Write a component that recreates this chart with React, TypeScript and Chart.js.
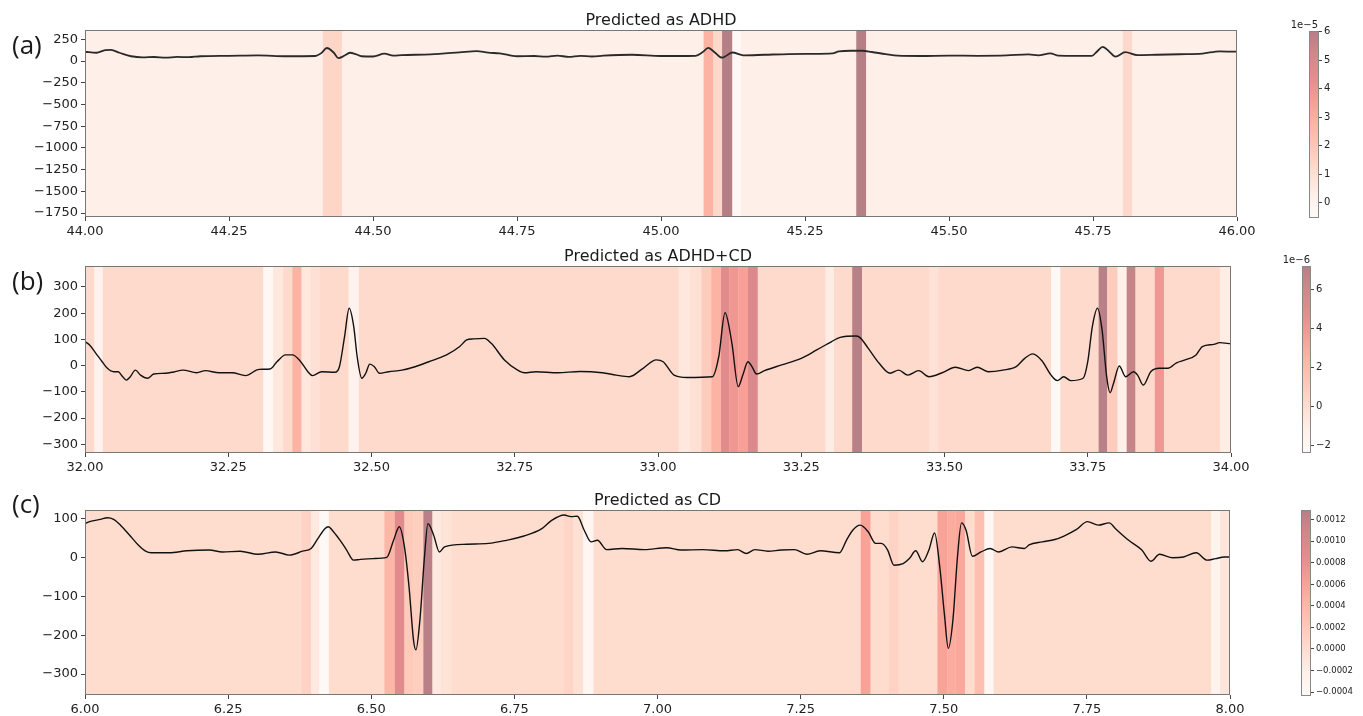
import React, { useEffect, useRef } from "react";
import { Chart, registerables } from "chart.js";
Chart.register(...registerables);

const TICK_FONT = "'DejaVu Sans', sans-serif";
const LABEL_FONT = "'Open Sans', 'DejaVu Sans', sans-serif";

// ---------------- Panel (a) ----------------
const titleA = "Predicted as ADHD";
const labelA = "(a)";
const timeA = [44.00, 44.02, 44.035, 44.045, 44.06, 44.08, 44.10, 44.12, 44.14, 44.16, 44.18, 44.20, 44.25, 44.30, 44.35, 44.40, 44.41, 44.42, 44.432, 44.44, 44.45, 44.46, 44.47, 44.48, 44.50, 44.52, 44.535, 44.55, 44.60, 44.65, 44.68, 44.70, 44.72, 44.75, 44.78, 44.80, 44.82, 44.84, 44.86, 44.88, 44.90, 44.95, 45.00, 45.03, 45.06, 45.072, 45.082, 45.094, 45.106, 45.124, 45.143, 45.18, 45.222, 45.26, 45.298, 45.309, 45.33, 45.35, 45.366, 45.39, 45.411, 45.45, 45.50, 45.55, 45.60, 45.638, 45.655, 45.676, 45.69, 45.72, 45.748, 45.757, 45.767, 45.778, 45.789, 45.806, 45.827, 45.86, 45.90, 45.94, 45.97, 46.00];
const ecgA = [107, 95, 125, 128, 95, 55, 42, 46, 38, 48, 44, 55, 60, 65, 55, 58, 90, 150, 95, 33, 60, 95, 80, 55, 52, 85, 62, 68, 77, 100, 115, 96, 88, 55, 58, 50, 62, 48, 60, 52, 62, 72, 58, 58, 60, 100, 152, 95, 38, 98, 65, 72, 80, 82, 88, 112, 118, 118, 104, 80, 62, 58, 62, 60, 64, 77, 66, 88, 62, 60, 60, 110, 163, 110, 50, 102, 68, 72, 78, 86, 112, 107];
const xTicksA = [44.0, 44.25, 44.5, 44.75, 45.0, 45.25, 45.5, 45.75, 46.0];
const yTicksA = [250, 0, -250, -500, -750, -1000, -1250, -1500, -1750];
const yRangeA = [-1795, 357];
const bandStartA = [44.413, 45.074, 45.091, 45.106, 45.124, 45.339, 45.802];
const bandEndA = [44.446, 45.091, 45.106, 45.124, 45.139, 45.356, 45.818];
const bandValueA = [1.4, 2.8, 1.3, 6.0, -0.3, 6.0, 1.3];
const backgroundValueA = 0.3;
const colorRangeA = [-0.53, 6.02];
const colorTicksA = [0, 1, 2, 3, 4, 5, 6];
const colorOffsetA = "1e\u22125";

// ---------------- Panel (b) ----------------
const titleB = "Predicted as ADHD+CD";
const labelB = "(b)";
const timeB = [32.000, 32.008, 32.019, 32.030, 32.039, 32.050, 32.058, 32.065, 32.072, 32.079, 32.088, 32.097, 32.109, 32.120, 32.140, 32.155, 32.171, 32.195, 32.210, 32.234, 32.257, 32.280, 32.304, 32.323, 32.335, 32.350, 32.362, 32.374, 32.389, 32.397, 32.413, 32.436, 32.444, 32.453, 32.461, 32.469, 32.475, 32.483, 32.490, 32.497, 32.505, 32.514, 32.530, 32.553, 32.576, 32.600, 32.631, 32.654, 32.666, 32.678, 32.697, 32.709, 32.732, 32.755, 32.767, 32.787, 32.825, 32.864, 32.903, 32.927, 32.950, 32.974, 32.997, 33.009, 33.028, 33.051, 33.095, 33.106, 33.117, 33.129, 33.140, 33.148, 33.157, 33.164, 33.172, 33.186, 33.216, 33.250, 33.277, 33.303, 33.318, 33.345, 33.352, 33.367, 33.386, 33.405, 33.420, 33.436, 33.455, 33.473, 33.496, 33.519, 33.542, 33.557, 33.576, 33.602, 33.625, 33.640, 33.654, 33.670, 33.686, 33.697, 33.708, 33.720, 33.742, 33.750, 33.758, 33.767, 33.775, 33.783, 33.789, 33.795, 33.805, 33.816, 33.830, 33.837, 33.847, 33.860, 33.875, 33.890, 33.905, 33.920, 33.939, 33.950, 33.970, 33.980, 34.000];
const ecgB = [92, 79, 47, 15, -10, -23, -23, -40, -55, -42, -17, -36, -48, -32, -29, -24, -17, -27, -19, -27, -27, -38, -14, -13, 15, 41, 41, 22, -23, -38, -23, -25, -4, 111, 219, 149, 34, -48, -29, 6, -4, -29, -23, -17, -4, 15, 41, 73, 98, 102, 104, 85, 22, -17, -27, -23, -27, -22, -27, -36, -42, -10, 22, 15, -36, -45, -42, 34, 202, 85, -80, -36, 15, -4, -32, -19, 3, 28, 60, 92, 108, 113, 108, 66, 9, -29, -17, -36, -19, -42, -27, -6, -19, -6, -23, -17, -4, 28, 45, 19, -36, -57, -42, -57, -48, 15, 149, 219, 136, -42, -103, -67, -1, -42, -23, -36, -74, -23, -10, -10, 11, 22, 41, 73, 81, 88, 83];
const xTicksB = [32.0, 32.25, 32.5, 32.75, 33.0, 33.25, 33.5, 33.75, 34.0];
const yTicksB = [300, 200, 100, 0, -100, -200, -300];
const yRangeB = [-333, 380];
const bandStartB = [32.016, 32.311, 32.329, 32.362, 32.378, 32.395, 32.460, 33.036, 33.057, 33.076, 33.093, 33.110, 33.125, 33.140, 33.157, 33.292, 33.339, 33.473, 33.686, 33.769, 33.784, 33.802, 33.818, 33.867, 33.981];
const bandEndB = [32.031, 32.329, 32.346, 32.378, 32.395, 32.410, 32.478, 33.057, 33.076, 33.093, 33.110, 33.125, 33.140, 33.157, 33.174, 33.307, 33.356, 33.489, 33.702, 33.784, 33.802, 33.818, 33.833, 33.883, 34.000];
const bandValueB = [-1.5, -2.0, -0.6, 2.5, -0.6, -0.2, -1.5, -0.6, -0.2, 1.0, 2.5, 5.0, 4.0, 3.5, 5.5, -1.0, 7.0, -0.3, -2.2, 7.0, 1.0, -1.3, 6.5, 4.0, -1.0];
const backgroundValueB = 0.2;
const colorRangeB = [-2.37, 7.19];
const colorTicksB = [-2, 0, 2, 4, 6];
const colorOffsetB = "1e\u22126";

// ---------------- Panel (c) ----------------
const titleC = "Predicted as CD";
const labelC = "(c)";
const timeC = [6.000, 6.008, 6.027, 6.039, 6.050, 6.062, 6.078, 6.093, 6.105, 6.116, 6.147, 6.178, 6.217, 6.240, 6.271, 6.302, 6.333, 6.357, 6.380, 6.395, 6.407, 6.419, 6.425, 6.434, 6.446, 6.457, 6.469, 6.481, 6.504, 6.527, 6.539, 6.549, 6.558, 6.566, 6.574, 6.578, 6.585, 6.593, 6.599, 6.609, 6.619, 6.628, 6.667, 6.705, 6.736, 6.767, 6.798, 6.814, 6.837, 6.849, 6.860, 6.872, 6.884, 6.895, 6.911, 6.938, 6.977, 7.016, 7.041, 7.079, 7.117, 7.140, 7.155, 7.170, 7.193, 7.216, 7.239, 7.261, 7.284, 7.318, 7.330, 7.341, 7.354, 7.368, 7.381, 7.391, 7.402, 7.413, 7.429, 7.440, 7.451, 7.463, 7.474, 7.484, 7.493, 7.501, 7.508, 7.516, 7.524, 7.531, 7.539, 7.550, 7.565, 7.581, 7.596, 7.619, 7.641, 7.649, 7.672, 7.694, 7.710, 7.732, 7.751, 7.770, 7.789, 7.800, 7.823, 7.846, 7.862, 7.877, 7.900, 7.919, 7.941, 7.960, 7.975, 7.990, 8.000];
const ecgC = [87, 92, 98, 102, 98, 83, 57, 32, 17, 12, 12, 17, 19, 14, 16, 8, 14, 6, 16, 23, 49, 74, 79, 66, 43, 19, -7, -5, -3, 0, 44, 79, 27, -76, -215, -238, -161, 2, 87, 57, 14, 27, 34, 36, 44, 55, 74, 94, 109, 105, 106, 70, 40, 44, 20, 23, 20, 25, 19, 20, 17, 20, 10, 20, 16, 19, 20, 8, 17, 12, 44, 70, 83, 66, 36, 36, 19, -20, -16, -3, 17, -11, 19, 63, -24, -144, -234, -161, 2, 89, 70, 3, 14, 23, 14, 27, 23, 32, 40, 46, 55, 72, 92, 83, 89, 74, 44, 19, -10, 8, -1, 1, 12, -7, -3, 1, 1];
const xTicksC = [6.0, 6.25, 6.5, 6.75, 7.0, 7.25, 7.5, 7.75, 8.0];
const yTicksC = [100, 0, -100, -200, -300];
const yRangeC = [-354, 122];
const bandStartC = [6.378, 6.395, 6.409, 6.523, 6.541, 6.558, 6.574, 6.591, 6.607, 6.622, 6.837, 6.853, 6.870, 7.355, 7.404, 7.489, 7.506, 7.521, 7.554, 7.571, 7.967, 7.983];
const bandEndC = [6.395, 6.409, 6.426, 6.541, 6.558, 6.574, 6.591, 6.607, 6.622, 6.640, 6.853, 6.870, 6.888, 7.372, 7.421, 7.506, 7.521, 7.537, 7.571, 7.587, 7.983, 8.000];
const bandValueC = [0.0001, -0.00015, -0.00042, 0.0004, 0.0009, 0.0002, 0.00015, 0.00125, -0.00015, -0.00007, 0.00008, -0.00005, -0.00035, 0.0006, 0.0001, 0.0006, 0.0005, 0.00055, 0.0003, -0.00038, -0.0003, -0.0001];
const backgroundValueC = 0.0;
const colorRangeC = [-0.000437, 0.00129];
const colorTicksC = [-0.0004, -0.0002, 0, 0.0002, 0.0004, 0.0006, 0.0008, 0.001, 0.0012];
const colorOffsetC = "";

// ---------------- colour map (Reds, drawn at alpha 0.5 over white) ----------------
const REDS = [[255, 245, 240], [254, 224, 210], [252, 187, 161], [252, 146, 114], [251, 106, 74], [239, 59, 44], [203, 24, 29], [165, 15, 21], [103, 0, 13]];
const ALPHA = 0.5;
function cmap(t: number): string {
  const tt = Math.max(0, Math.min(1, t));
  const p = tt * (REDS.length - 1);
  const i = Math.min(REDS.length - 2, Math.floor(p));
  const f = p - i;
  const c = [0, 1, 2].map((k) => REDS[i][k] + (REDS[i + 1][k] - REDS[i][k]) * f);
  const b = c.map((v) => Math.round(v * ALPHA + 255 * (1 - ALPHA)));
  return `rgb(${b[0]},${b[1]},${b[2]})`;
}

function fmtInt(v: number) {
  return v < 0 ? "\u2212" + Math.abs(v) : String(v);
}
function fmt4(v: number) {
  const s = Math.abs(v).toFixed(4);
  return v < -1e-12 ? "\u2212" + s : s;
}

const PANELS = [
  { title: titleA, label: labelA, t: timeA, v: ecgA, xTicks: xTicksA, yTicks: yTicksA, yRange: yRangeA, bs: bandStartA, be: bandEndA, bv: bandValueA, bg: backgroundValueA, cRange: colorRangeA, cTicks: colorTicksA, cOffset: colorOffsetA, cFmt: fmtInt },
  { title: titleB, label: labelB, t: timeB, v: ecgB, xTicks: xTicksB, yTicks: yTicksB, yRange: yRangeB, bs: bandStartB, be: bandEndB, bv: bandValueB, bg: backgroundValueB, cRange: colorRangeB, cTicks: colorTicksB, cOffset: colorOffsetB, cFmt: fmtInt },
  { title: titleC, label: labelC, t: timeC, v: ecgC, xTicks: xTicksC, yTicks: yTicksC, yRange: yRangeC, bs: bandStartC, be: bandEndC, bv: bandValueC, bg: backgroundValueC, cRange: colorRangeC, cTicks: colorTicksC, cOffset: colorOffsetC, cFmt: fmt4 },
];

// layout (page pixel positions)
const LAYOUT = [
  { area: { l: 85, r: 1237, t: 30, b: 217 }, bar: { l: 1309, r: 1319, t: 31, b: 218 }, label: { x: 12, y: 47 }, cbFont: 10, lineW: 1.8, lineC: "#2a2a2a" },
  { area: { l: 85, r: 1231, t: 266, b: 453 }, bar: { l: 1302, r: 1311, t: 266, b: 453 }, label: { x: 12, y: 283 }, cbFont: 10, lineW: 1.4, lineC: "#111111" },
  { area: { l: 85, r: 1230, t: 510, b: 695 }, bar: { l: 1301, r: 1311, t: 510, b: 696 }, label: { x: 12, y: 506 }, cbFont: 8.5, lineW: 1.4, lineC: "#111111" },
];

type P = (typeof PANELS)[number];
type L = (typeof LAYOUT)[number];

function PanelChart({ p, lay }: { p: P; lay: L }) {
  const ref = useRef<HTMLCanvasElement | null>(null);
  const a = lay.area;
  const cTop = Math.max(0, a.t - 45);
  const W = a.r + 25;
  const H = a.b - cTop + 30;
  useEffect(() => {
    if (!ref.current) return;
    const norm = (v: number) => (v - p.cRange[0]) / (p.cRange[1] - p.cRange[0]);
    const bandPlugin = {
      id: "bands",
      beforeDatasetsDraw(chart: any) {
        const { ctx, chartArea: ca } = chart;
        const xs = chart.scales.x;
        ctx.save();
        ctx.beginPath();
        ctx.rect(ca.left, ca.top, ca.right - ca.left, ca.bottom - ca.top);
        ctx.clip();
        ctx.fillStyle = cmap(norm(p.bg));
        ctx.fillRect(ca.left, ca.top, ca.right - ca.left, ca.bottom - ca.top);
        for (let i = 0; i < p.bs.length; i++) {
          const x0 = xs.getPixelForValue(p.bs[i]);
          const x1 = xs.getPixelForValue(p.be[i]);
          ctx.fillStyle = cmap(norm(p.bv[i]));
          ctx.fillRect(x0, ca.top, x1 - x0, ca.bottom - ca.top);
        }
        ctx.restore();
      },
      afterDraw(chart: any) {
        const { ctx, chartArea: ca } = chart;
        ctx.save();
        ctx.strokeStyle = "#777";
        ctx.lineWidth = 1;
        ctx.strokeRect(ca.left + 0.5, ca.top + 0.5, ca.right - ca.left - 1, ca.bottom - ca.top - 1);
        ctx.fillStyle = "#1a1a1a";
        ctx.font = `16px ${TICK_FONT}`;
        ctx.textAlign = "center";
        ctx.textBaseline = "alphabetic";
        ctx.fillText(p.title, (ca.left + ca.right) / 2, ca.top - 5);
        ctx.font = `26px ${LABEL_FONT}`;
        ctx.textAlign = "left";
        ctx.textBaseline = "middle";
        ctx.fillText(p.label, lay.label.x, lay.label.y - cTop);
        ctx.restore();
      },
    };
    const chart = new Chart(ref.current, {
      type: "line",
      data: {
        datasets: [
          {
            data: p.t.map((x, i) => ({ x, y: p.v[i] })),
            borderColor: lay.lineC,
            borderWidth: lay.lineW,
            pointRadius: 0,
            cubicInterpolationMode: "monotone",
            fill: false,
          },
        ],
      },
      options: {
        animation: false,
        responsive: false,
        maintainAspectRatio: false,
        devicePixelRatio: 1,
        layout: { padding: { left: 0, top: a.t - cTop, right: 25, bottom: 0 } },
        plugins: { legend: { display: false }, tooltip: { enabled: false }, title: { display: false } },
        scales: {
          x: {
            type: "linear",
            min: p.xTicks[0],
            max: p.xTicks[p.xTicks.length - 1],
            afterBuildTicks: (s: any) => {
              s.ticks = p.xTicks.map((v) => ({ value: v }));
            },
            afterFit: (s: any) => {
              s.height = 30;
            },
            ticks: {
              callback: (v: any) => Number(v).toFixed(2),
              font: { family: TICK_FONT, size: 13 },
              color: "#222",
              padding: 3,
              maxRotation: 0,
              autoSkip: false,
            },
            grid: { drawOnChartArea: false, drawTicks: true, tickLength: 4, color: "#444" },
            border: { display: false },
          },
          y: {
            type: "linear",
            min: p.yRange[0],
            max: p.yRange[1],
            afterBuildTicks: (s: any) => {
              s.ticks = p.yTicks.map((v) => ({ value: v }));
            },
            afterFit: (s: any) => {
              s.width = a.l;
            },
            ticks: {
              callback: (v: any) => fmtInt(Number(v)),
              font: { family: TICK_FONT, size: 13 },
              color: "#222",
              padding: 3,
              autoSkip: false,
            },
            grid: { drawOnChartArea: false, drawTicks: true, tickLength: 4, color: "#444" },
            border: { display: false },
          },
        },
      } as any,
      plugins: [bandPlugin],
    });
    return () => chart.destroy();
  }, []);
  return (
    <canvas
      ref={ref}
      width={W}
      height={H}
      style={{ position: "absolute", left: 0, top: cTop, width: W, height: H }}
    />
  );
}

function ColorBar({ p, lay }: { p: P; lay: L }) {
  const ref = useRef<HTMLCanvasElement | null>(null);
  const b = lay.bar;
  const cLeft = 1262;
  const cTop = b.t - 30;
  const W = 1363 - cLeft;
  const H = b.b - cTop + 12;
  useEffect(() => {
    if (!ref.current) return;
    const barPlugin = {
      id: "cbar",
      beforeDatasetsDraw(chart: any) {
        const { ctx, chartArea: ca } = chart;
        const ys = chart.scales.y;
        const y0 = ys.getPixelForValue(p.cRange[0]);
        const y1 = ys.getPixelForValue(p.cRange[1]);
        const g = ctx.createLinearGradient(0, y0, 0, y1);
        const n = 48;
        for (let i = 0; i <= n; i++) g.addColorStop(i / n, cmap(i / n));
        ctx.save();
        ctx.fillStyle = g;
        ctx.fillRect(ca.left, ca.top, ca.right - ca.left, ca.bottom - ca.top);
        ctx.strokeStyle = "#888";
        ctx.lineWidth = 1;
        ctx.strokeRect(ca.left + 0.5, ca.top + 0.5, ca.right - ca.left - 1, ca.bottom - ca.top - 1);
        if (p.cOffset) {
          ctx.fillStyle = "#222";
          ctx.font = `${lay.cbFont}px ${TICK_FONT}`;
          ctx.textAlign = "right";
          ctx.textBaseline = "alphabetic";
          ctx.fillText(p.cOffset, ca.right - 1, ca.top - 3);
        }
        ctx.restore();
      },
    };
    const chart = new Chart(ref.current, {
      type: "line",
      data: { datasets: [{ data: [] }] },
      options: {
        animation: false,
        responsive: false,
        maintainAspectRatio: false,
        devicePixelRatio: 1,
        layout: { padding: { left: b.l - cLeft, top: 30, right: 0, bottom: 12 } },
        plugins: { legend: { display: false }, tooltip: { enabled: false } },
        scales: {
          x: { type: "linear", display: false, min: 0, max: 1 },
          y: {
            type: "linear",
            position: "right",
            min: p.cRange[0],
            max: p.cRange[1],
            afterBuildTicks: (s: any) => {
              s.ticks = p.cTicks.map((v) => ({ value: v }));
            },
            afterFit: (s: any) => {
              s.width = W - (b.r - cLeft);
            },
            ticks: {
              callback: (v: any) => p.cFmt(Number(v)),
              font: { family: TICK_FONT, size: lay.cbFont },
              color: "#222",
              padding: 2,
              autoSkip: false,
            },
            grid: { drawOnChartArea: false, drawTicks: true, tickLength: 3, color: "#444" },
            border: { display: false },
          },
        },
      } as any,
      plugins: [barPlugin],
    });
    return () => chart.destroy();
  }, []);
  return (
    <canvas
      ref={ref}
      width={W}
      height={H}
      style={{ position: "absolute", left: cLeft, top: cTop, width: W, height: H }}
    />
  );
}

export default function App() {
  return (
    <div style={{ position: "absolute", left: 0, top: 0, width: 1363, height: 716, background: "#fff", overflow: "hidden" }}>
      {PANELS.map((p, i) => (
        <PanelChart key={"p" + i} p={p} lay={LAYOUT[i]} />
      ))}
      {PANELS.map((p, i) => (
        <ColorBar key={"c" + i} p={p} lay={LAYOUT[i]} />
      ))}
    </div>
  );
}
